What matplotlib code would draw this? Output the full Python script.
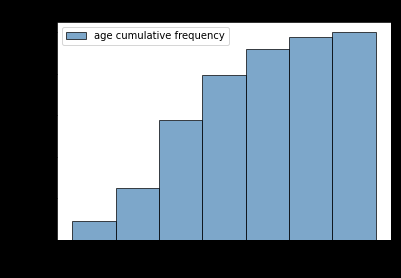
import matplotlib.pyplot as plt
import numpy as np

# age bins (edges) and cumulative counts
age_edges = [0, 10, 20, 30, 40, 50, 60, 70]
cum_freq = [92, 250, 580, 797, 918, 976, 1000]

fig = plt.figure(figsize=(401 / 72, 278 / 72), dpi=72)
fig.patch.set_facecolor('black')
ax = fig.add_axes([57 / 401, 38 / 278, 334 / 401, 218 / 278])
ax.set_facecolor('white')

widths = np.diff(age_edges)
ax.bar(age_edges[:-1], cum_freq, width=widths, align='edge',
       color='steelblue', alpha=0.7, edgecolor='black', linewidth=1,
       label='age cumulative frequency')

ax.legend(loc='upper left', fontsize=10)
for s in ax.spines.values():
    s.set_color('black')

plt.savefig('out.png', dpi=72, facecolor='black')
plt.close()
